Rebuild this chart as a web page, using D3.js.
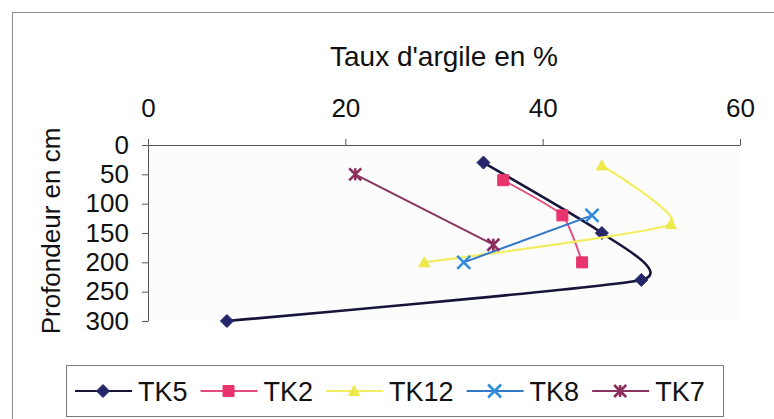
<!DOCTYPE html>
<html>
<head>
<meta charset="utf-8">
<script src="https://cdn.jsdelivr.net/npm/d3@7"></script>
<style>
	body { margin: 0; background: #fff; }
	text { font-family: "Liberation Sans", Arial, sans-serif; fill: #111; }
</style>
</head>
<body>
<div id="my_dataviz"></div>
<script>
var width = 774,
	height = 419;

// Data (taux d'argile en %, profondeur en cm)
var seriesNames = ["TK5", "TK2", "TK12", "TK8", "TK7"];
var clayTK5 = [34, 46, 50, 8],
	depthTK5 = [30, 150, 230, 300];
var clayTK2 = [36, 42, 44],
	depthTK2 = [60, 120, 200];
var clayTK12 = [46, 53, 28],
	depthTK12 = [35, 135, 200];
var clayTK8 = [45, 32],
	depthTK8 = [120, 200];
var clayTK7 = [21, 35],
	depthTK7 = [50, 170];
var xTicks = [0, 20, 40, 60];
var yTicks = [0, 50, 100, 150, 200, 250, 300];

var series = [
	{name: "TK5", clay: clayTK5, depth: depthTK5, line: "#15153a", fill: "#25256a", marker: "diamond", lw: 2.6},
	{name: "TK2", clay: clayTK2, depth: depthTK2, line: "#e24a7a", fill: "#e8336c", marker: "square", lw: 1.8},
	{name: "TK12", clay: clayTK12, depth: depthTK12, line: "#f2ee62", fill: "#eee84a", marker: "triangle", lw: 2.2},
	{name: "TK8", clay: clayTK8, depth: depthTK8, line: "#3479c8", fill: "#2f8ce0", marker: "x", lw: 2},
	{name: "TK7", clay: clayTK7, depth: depthTK7, line: "#8a3560", fill: "#8c2f5c", marker: "star", lw: 2}
];

var svg = d3.select("#my_dataviz")
	.append("svg")
	.attr("width", width)
	.attr("height", height);

// outer chart border
svg.append("rect")
	.attr("x", 12.5).attr("y", 12.5)
	.attr("width", width + 20).attr("height", height + 20)
	.attr("fill", "#fff")
	.attr("stroke", "#8a8a8a");

// Scales
var x = d3.scaleLinear().domain([0, 60]).range([148, 740]);
var y = d3.scaleLinear().domain([0, 300]).range([145, 321]);

// plot area
svg.append("rect")
	.attr("x", x(0)).attr("y", y(0))
	.attr("width", x(60) - x(0)).attr("height", y(300) - y(0))
	.attr("fill", "#fcfcfc");

// Axes
var xAxis = svg.append("g")
	.attr("transform", "translate(0," + y(0) + ")")
	.call(d3.axisTop(x).tickValues(xTicks).tickSize(6).tickSizeOuter(0).tickPadding(22));
var yAxis = svg.append("g")
	.attr("transform", "translate(" + x(0) + ",0)")
	.call(d3.axisLeft(y).tickValues(yTicks).tickSize(6).tickSizeOuter(0).tickPadding(13));
[xAxis, yAxis].forEach(function(g){
	g.select(".domain").attr("stroke", "#555");
	g.selectAll(".tick line").attr("stroke", "#555");
	g.selectAll(".tick text")
		.style("font-family", "'Liberation Sans', Arial, sans-serif")
		.style("font-size", "26px")
		.attr("fill", "#111");
});

// Titles
svg.append("text")
	.attr("x", 444).attr("y", 66)
	.attr("text-anchor", "middle")
	.style("font-size", "28px")
	.text("Taux d'argile en %");
svg.append("text")
	.attr("transform", "translate(60,231) rotate(-90)")
	.attr("text-anchor", "middle")
	.style("font-size", "26px")
	.text("Profondeur en cm");

// Marker shapes
function markerPath(type, r) {
	switch (type) {
		case "diamond":
			return "M0," + (-r) + "L" + r + ",0L0," + r + "L" + (-r) + ",0Z";
		case "square":
			return "M" + (-r) + "," + (-r) + "H" + r + "V" + r + "H" + (-r) + "Z";
		case "triangle":
			return "M0," + (-r) + "L" + r + "," + (r * 0.8) + "L" + (-r) + "," + (r * 0.8) + "Z";
		case "x":
			return "M" + (-r) + "," + (-r) + "L" + r + "," + r + "M" + r + "," + (-r) + "L" + (-r) + "," + r;
		case "star":
			return "M" + (-r) + "," + (-r) + "L" + r + "," + r + "M" + r + "," + (-r) + "L" + (-r) + "," + r +
				"M0," + (-r) + "V" + r;
	}
}
var markerSize = {diamond: 6.5, square: 5.5, triangle: 5.5, x: 6.5, star: 6};
function drawMarker(g, s, px, py) {
	var stroked = s.marker === "x" || s.marker === "star";
	g.append("path")
		.attr("transform", "translate(" + px + "," + py + ")")
		.attr("d", markerPath(s.marker, markerSize[s.marker]))
		.attr("fill", stroked ? "none" : s.fill)
		.attr("stroke", s.fill)
		.attr("stroke-width", stroked ? 2.6 : 1);
}

// Lines (smoothed, as in the spreadsheet)
var line = d3.line()
	.x(function(d){ return x(d[0]); })
	.y(function(d){ return y(d[1]); })
	.curve(d3.curveCardinal.tension(0.5));

var plot = svg.append("g").attr("class", "series");
series.forEach(function(s){
	var pts = s.clay.map(function(c, i){ return [c, s.depth[i]]; });
	var g = plot.append("g");
	g.append("path")
		.datum(pts)
		.attr("d", line)
		.attr("fill", "none")
		.attr("stroke", s.line)
		.attr("stroke-width", s.lw);
	pts.forEach(function(p){ drawMarker(g, s, x(p[0]), y(p[1])); });
});

// Legend
var legend = svg.append("g");
legend.append("rect")
	.attr("x", 66.5).attr("y", 365.5)
	.attr("width", 657).attr("height", 51)
	.attr("fill", "#fff")
	.attr("stroke", "#7a7a7a");
var lx = 75, ly = 391;
series.forEach(function(s){
	var g = legend.append("g");
	g.append("line")
		.attr("x1", lx).attr("x2", lx + 57)
		.attr("y1", ly).attr("y2", ly)
		.attr("stroke", s.line)
		.attr("stroke-width", 2);
	drawMarker(g, s, lx + 28, ly);
	var t = g.append("text")
		.attr("x", lx + 63).attr("y", ly + 9.5)
		.style("font-size", "27px")
		.text(s.name);
	lx = lx + 63 + t.node().getComputedTextLength() + 13;
});
</script>
</body>
</html>
